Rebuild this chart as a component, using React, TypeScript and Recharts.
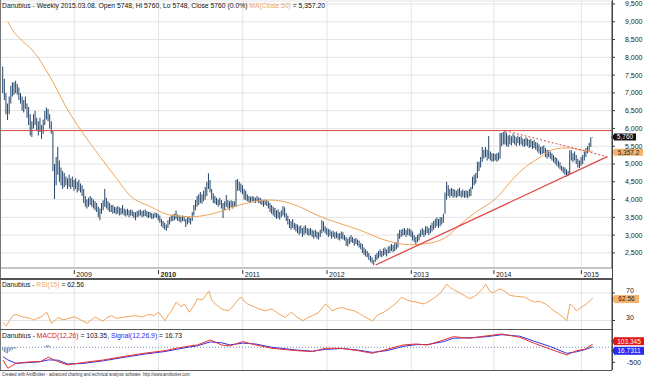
import { ComposedChart, Bar, Line, XAxis, YAxis, CartesianGrid, ReferenceLine } from 'recharts'

const FONT = 'Liberation Sans, Arial, sans-serif'

// weekly bars [low, high]; week 0 = 2008.03.09
const BARS_2008 = [
  [6990, 7740], [6800, 7400], [6400, 7000], [6240, 6700], [6400, 6900], [6700, 7200], [6900, 7300], [6950, 7300],
  [7000, 7340], [6950, 7250], [6800, 7150], [6700, 7000], [6500, 6900], [6450, 6800], [6550, 6900], [6300, 6700],
  [6100, 6600], [5800, 6400], [5760, 6200], [6000, 6400], [6100, 6500], [5950, 6300], [5800, 6200], [5900, 6300],
  [5700, 6100], [5850, 6250], [6100, 6500], [6250, 6590], [6200, 6550], [6000, 6400], [5850, 6200], [4800, 5950],
  [4015, 5000], [4400, 5200], [4700, 5480], [4500, 5100], [4400, 4900], [4300, 4800], [4350, 4750], [4400, 4650],
  [4300, 4600], [4350, 4700], [4300, 4600], [4350, 4650],
]
const BARS_2009 = [
  [4250, 4550], [4300, 4600], [4200, 4500], [4250, 4560], [4200, 4450], [4100, 4400], [3900, 4300], [3800, 4100],
  [3750, 4000], [3800, 4050], [3850, 4100], [3800, 4050], [3750, 4000], [3700, 3950], [3650, 3900], [3500, 3800],
  [3420, 3750], [3600, 3900], [3700, 3980], [3800, 4300], [3750, 4050], [3700, 3950], [3650, 3900], [3650, 3850],
  [3600, 3850], [3620, 3800], [3580, 3780], [3600, 3820], [3550, 3780], [3570, 3760], [3600, 3850], [3550, 3750],
  [3520, 3720], [3560, 3740], [3500, 3700], [3550, 3720], [3530, 3700], [3480, 3660], [3420, 3640], [3500, 3680],
  [3520, 3700], [3550, 3720], [3500, 3680], [3520, 3700], [3540, 3720], [3500, 3680], [3480, 3650], [3500, 3660],
  [3450, 3620], [3460, 3600], [3500, 3640], [3480, 3620],
]
const BARS_2010 = [
  [3420, 3600], [3350, 3550], [3250, 3450], [3200, 3400], [3150, 3350], [3125, 3300], [3200, 3420], [3300, 3500],
  [3380, 3560], [3400, 3580], [3420, 3600], [3450, 3690], [3400, 3580], [3380, 3560], [3350, 3520], [3400, 3550],
  [3380, 3540], [3230, 3450], [3300, 3500], [3350, 3520], [3300, 3480], [3400, 3650], [3550, 3850], [3700, 3990],
  [3800, 4100], [3850, 4150], [3900, 4210], [3880, 4150], [3950, 4250], [4000, 4350], [4100, 4500], [4300, 4740],
  [4200, 4550], [4000, 4300], [3900, 4180], [3880, 4100], [3850, 4050], [3800, 4000], [3850, 4050], [3750, 3990],
  [3480, 3900], [3700, 3950], [3800, 4130], [3750, 3990], [3700, 3950], [3780, 3980], [3750, 3950], [3800, 3950],
  [3800, 4550], [4250, 4580], [4250, 4500], [4200, 4450],
]
const BARS_2011 = [
  [4150, 4400], [4000, 4300], [3980, 4250], [3950, 4150], [3930, 4100], [3900, 4080], [3950, 4100], [3920, 4080],
  [3900, 4050], [3950, 4100], [3900, 4060], [3880, 4050], [3850, 4000], [3800, 3980], [3850, 4000], [3820, 3980],
  [3750, 3950], [3650, 3900], [3600, 3850], [3550, 3800], [3500, 3760], [3450, 3700], [3480, 3720], [3430, 3650],
  [3500, 3700], [3550, 3820], [3500, 3780], [3400, 3620], [3300, 3550], [3200, 3450], [3150, 3400], [3200, 3450],
  [3150, 3350], [3100, 3320], [3050, 3300], [3000, 3250], [3050, 3280], [2950, 3200], [3000, 3250], [3050, 3280],
  [3000, 3200], [2980, 3180], [3000, 3200], [2950, 3150], [2900, 3120], [2950, 3150], [2900, 3100], [2880, 3080],
  [2950, 3150], [3050, 3420], [3100, 3380], [3050, 3250],
]
const BARS_2012 = [
  [3000, 3200], [2950, 3180], [2980, 3150], [2900, 3100], [2950, 3120], [2900, 3080], [2920, 3100], [2880, 3050],
  [2850, 3050], [2900, 3100], [2880, 3080], [2850, 3000], [2700, 2950], [2680, 2900], [2750, 2950], [2800, 3000],
  [2780, 2950], [2700, 2900], [2750, 2920], [2700, 2880], [2650, 2850], [2600, 2780], [2500, 2750], [2450, 2650],
  [2400, 2600], [2380, 2550], [2300, 2500], [2250, 2420], [2200, 2380], [2160, 2300], [2250, 2450], [2300, 2500],
  [2350, 2550], [2400, 2600], [2380, 2550], [2420, 2620], [2450, 2650], [2400, 2600], [2480, 2680], [2500, 2700],
  [2550, 2750], [2520, 2720], [2550, 2780], [2600, 2800], [2650, 3050], [2900, 3150], [2950, 3150], [2980, 3180],
  [3000, 3200], [2950, 3150], [3000, 3200], [2980, 3180],
]
const BARS_2013 = [
  [2950, 3150], [2850, 3100], [2800, 3000], [2750, 2950], [2800, 3000], [2850, 3050], [2950, 3150], [3000, 3200],
  [2950, 3150], [3000, 3250], [3050, 3250], [3000, 3200], [3050, 3280], [3100, 3350], [3150, 3400], [3200, 3450],
  [3250, 3500], [3200, 3450], [3250, 3510], [3300, 3500], [3350, 3600], [3600, 4200], [4000, 4500], [4100, 4400],
  [4050, 4300], [4100, 4330], [4050, 4300], [4080, 4280], [4050, 4250], [4080, 4300], [4100, 4330], [4050, 4250],
  [4080, 4280], [4050, 4250], [4060, 4260], [4040, 4240], [4080, 4300], [4100, 4350], [4300, 4640], [4400, 4700],
  [4450, 4750], [4600, 5060], [4800, 5060], [4900, 5200], [5060, 5480], [5150, 5400], [5200, 5480], [5100, 5400],
  [5150, 5790], [5100, 5350], [5060, 5300],
]
const BARS_2014 = [
  [5080, 5300], [5100, 5280], [5060, 5300], [5100, 5320], [5150, 5870], [5500, 5870], [5550, 5900], [5550, 5936],
  [5500, 5880], [5480, 5800], [5550, 5820], [5520, 5780], [5600, 5850], [5550, 5800], [5500, 5750], [5580, 5800],
  [5520, 5760], [5550, 5780], [5500, 5720], [5480, 5700], [5520, 5750], [5500, 5720], [5450, 5680], [5480, 5700],
  [5420, 5650], [5450, 5680], [5400, 5620], [5350, 5600], [5300, 5550], [5250, 5480], [5280, 5500], [5300, 5520],
  [5200, 5450], [5150, 5400], [5200, 5390], [5150, 5350], [5100, 5300], [5050, 5250], [5000, 5200], [4950, 5170],
  [4900, 5100], [4850, 5050], [4800, 4950], [4750, 4920], [4700, 4900], [4640, 4850], [4660, 4800], [4700, 5390],
  [5100, 5390], [5050, 5300], [5100, 5350], [5000, 5250], [4900, 5150], [4890, 5100],
]
const BARS_2015 = [
  [4950, 5200], [5000, 5250], [5100, 5350], [5200, 5450], [5300, 5500], [5350, 5600], [5480, 5750], [5748, 5760],
]

// MA(Close,50) read at some weeks
const MA_POINTS: [number, number][] = [
  [3, 9000], [6, 8760], [12, 8460], [18, 8206], [29, 7455], [40, 6518], [48, 5955], [60, 5200], [70, 4600],
  [78, 4128], [91, 3800], [103, 3565], [117, 3518], [134, 3660], [146, 3847], [165, 3987], [177, 3900],
  [196, 3518], [220, 3144], [239, 2815], [251, 2730], [264, 2780], [274, 2955], [282, 3285], [291, 3620],
  [304, 4020], [317, 4690], [325, 5000], [332, 5200], [338, 5380], [346, 5450], [350, 5450], [356, 5400], [364, 5357],
]

const RSI_POINTS: [number, number][] = [
  [0, 27], [2, 22], [4, 30], [6, 37], [8, 39], [11, 36], [14, 34.5], [17, 33], [19, 30.5], [21, 33], [23, 34.5],
  [25, 38], [27, 42], [30, 25.6], [32, 30], [34, 34.5], [37, 31], [39, 32], [42, 34], [44, 35.4], [47, 32],
  [49, 29.5], [52, 26], [55, 32], [57, 35], [60, 31], [62, 29.5], [64, 34], [67, 37], [70, 33], [74, 34.5],
  [78, 36], [82, 37], [86, 35], [90, 39], [93, 37], [96, 42], [98, 36], [100, 29.5], [102, 38], [104, 44],
  [107, 56.7], [110, 50], [112, 54], [115, 42], [118, 52], [120, 61.6], [123, 60], [125, 66], [127, 73],
  [129, 59], [132, 52], [135, 46.8], [139, 44], [141, 48], [143, 54], [145, 60], [147, 64], [149, 58], [151, 54],
  [155, 50], [158, 46.8], [162, 44], [166, 46.8], [170, 40], [174, 34.5], [176, 38], [178, 42], [181, 36],
  [185, 29.5], [188, 34], [191, 37], [195, 42], [199, 54], [201, 50], [203, 44], [206, 47], [209, 49], [213, 46],
  [217, 44], [220, 40], [222, 37], [225, 33], [228, 29.5], [230, 35], [232, 39], [235, 42], [238, 46.8],
  [242, 54], [246, 64], [249, 60], [252, 58], [255, 56.7], [258, 55], [260, 54], [263, 58], [267, 64], [270, 70],
  [274, 82.8], [276, 78], [278, 75], [282, 70], [285, 66], [288, 61.6], [291, 65], [293, 69], [296, 76],
  [298, 82.8], [300, 74], [302, 70], [305, 74], [307, 76], [310, 72], [313, 66.5], [317, 65], [322, 64],
  [325, 60], [328, 56.7], [331, 58], [335, 54], [338, 48], [340, 44], [343, 40], [346, 34], [348, 29.5],
  [350, 54], [352, 50], [354, 44], [357, 49], [360, 54], [362, 58], [364, 62.56],
]

const MACD_POINTS: [number, number][] = [
  [0, -422], [3, -700], [8, -533], [14, -500], [19, -478], [23, -478], [28, -333], [34, -478], [40, -589],
  [49, -511], [62, -422], [74, -311], [87, -200], [100, -111], [107, -33], [115, 44], [120, 78], [128, 244],
  [135, 78], [140, 44], [148, 189], [156, 78], [166, -33], [181, -111], [191, -144], [199, -33], [209, -33],
  [219, -111], [228, -200], [237, -67], [247, 78], [255, 111], [262, 78], [272, 244], [278, 355], [288, 300],
  [298, 378], [308, 444], [319, 333], [328, 133], [338, -67], [348, -255], [354, -111], [359, -67], [364, 103.35],
]
const SIGNAL_POINTS: [number, number][] = [
  [0, -311], [3, -420], [8, -533], [19, -500], [23, -480], [28, -420], [34, -430], [40, -555], [49, -540],
  [62, -450], [74, -340], [87, -230], [100, -140], [107, -70], [115, 10], [120, 50], [128, 180], [135, 150],
  [140, 80], [148, 140], [156, 110], [166, 0], [181, -90], [191, -130], [199, -70], [209, -40], [219, -90],
  [228, -170], [237, -110], [247, 30], [255, 90], [262, 90], [272, 190], [278, 300], [288, 320], [298, 350],
  [308, 420], [319, 370], [328, 200], [338, 20], [348, -200], [354, -150], [359, -80], [364, 16.73],
]
const HIST_POINTS: [number, number][] = [
  [0, -110], [1, -160], [2, -190], [3, -200], [4, -150], [5, -110], [6, -80], [7, -60], [8, -40],
  [26, 40], [27, 70], [28, 80], [29, 50],
]

const YEAR_TICKS = [44, 96, 148, 200, 252, 303, 357]
const YEAR_LABELS = ['2009', '2010', '2011', '2012', '2013', '2014', '2015']
const PRICE_TICKS = [2500, 3000, 3500, 4000, 4500, 5000, 5500, 6000, 6500, 7000, 7500, 8000, 8500, 9000, 9500]
const RSI_TICKS = [30, 70]
const MACD_TICKS = [-500]

const RESIST_LEVEL = 5940
const SUPPORT_LINE: [number, number][] = [[230, 2160], [373, 5205]]
const FALLING_LINE: [number, number][] = [[310, 5936], [373, 5205]]

const LAST_CLOSE = 5760
const LAST_MA = 5357.2
const LAST_RSI = 62.56
const LAST_MACD = 103.345
const LAST_SIGNAL = 16.7311

const X_DOMAIN: [number, number] = [-1.85, 375.9]
const ORANGE = '#f0a458'
const GRID = '#e4e4e4'

const BARS = [...BARS_2008, ...BARS_2009, ...BARS_2010, ...BARS_2011, ...BARS_2012, ...BARS_2013, ...BARS_2014, ...BARS_2015]
const maMap = new Map(MA_POINTS)
const priceData = BARS.map(([lo, hi], i) => ({ i, range: [lo, hi], ma: maMap.get(i) }))
const rsiData = RSI_POINTS.map(([i, v]) => ({ i, rsi: v }))

const macdMap = new Map<number, any>()
const put = (pts: [number, number][], key: string) =>
  pts.forEach(([i, v]) => macdMap.set(i, { ...(macdMap.get(i) || { i }), [key]: v }))
put(MACD_POINTS, 'macd')
put(SIGNAL_POINTS, 'signal')
put(HIST_POINTS, 'hist')
const macdData = [...macdMap.values()].sort((a, b) => a.i - b.i)

const YearTick = ({ x, y, payload }: any) => {
  const label = YEAR_LABELS[YEAR_TICKS.indexOf(payload.value)]
  return (
    <g>
      <line x1={x} x2={x} y1={y + 2} y2={y + 6} stroke="#333" />
      <text x={x + 2} y={y + 9} fontSize={7} fill="#222" fontFamily={FONT} fontWeight={label === '2010' ? 'bold' : 'normal'}>
        {label}
      </text>
    </g>
  )
}

const AxisTick = ({ x, y, payload, dx, dy = 2.5 }: any) => (
  <g>
    <line x1={x} x2={x + 3} y1={y} y2={y} stroke="#333" />
    <text x={x + dx} y={y + dy} fontSize={7} fill="#222" fontFamily={FONT}>
      {payload.value.toLocaleString('en-US')}
    </text>
  </g>
)

const Tag = ({ viewBox, text, bg, fg, w, dy = 0, h = 8 }: any) => {
  if (!viewBox) return null
  const x = viewBox.x + viewBox.width + 1
  const y = viewBox.y + dy
  return (
    <g>
      <polygon points={`${x - 2},${y} ${x + 2},${y - h / 2} ${x + 2},${y + h / 2}`} fill={bg} />
      <rect x={x + 1} y={y - h / 2} width={w} height={h} fill={bg} />
      <text x={x + 1 + w / 2} y={y + 2.3} textAnchor="middle" fontSize={6.5} fill={fg} fontFamily={FONT}>
        {text}
      </text>
    </g>
  )
}

export default function App() {
  return (
    <div style={{ position: 'absolute', left: 0, top: 0, width: 645, height: 377, background: '#fff' }}>
      <div style={{ position: 'absolute', left: 0, top: 0 }}>
        <ComposedChart width={645} height={279} data={priceData} margin={{ top: 1, right: 0, bottom: 0, left: 0 }}>
          <CartesianGrid stroke={GRID} />
          <XAxis dataKey="i" type="number" domain={X_DOMAIN} ticks={YEAR_TICKS} interval={0} height={11}
            tickSize={0} tickMargin={0} axisLine={{ stroke: '#999' }} tick={<YearTick />} allowDataOverflow />
          <YAxis orientation="right" width={33} domain={[2075, 9584]} ticks={PRICE_TICKS} interval={0}
            tickSize={0} tickMargin={0} axisLine={{ stroke: '#444' }} tick={<AxisTick dx={13} />} allowDataOverflow />
          <ReferenceLine y={RESIST_LEVEL} stroke="#e04848" strokeWidth={1} />
          <Bar dataKey="range" barSize={1} fill="#234569" isAnimationActive={false} />
          <Line dataKey="ma" type="monotone" stroke={ORANGE} strokeWidth={1} dot={false} connectNulls isAnimationActive={false} />
          <ReferenceLine segment={SUPPORT_LINE.map(([x, y]) => ({ x, y }))} stroke="#e04848" strokeWidth={1.3} />
          <ReferenceLine segment={FALLING_LINE.map(([x, y]) => ({ x, y }))} stroke="#e04848" strokeDasharray="2 2" />
          <ReferenceLine y={LAST_CLOSE} stroke="none"
            label={<Tag text="5,760" bg="#111" fg="#fff" w={22} h={7} />} />
          <ReferenceLine y={LAST_MA} stroke="none"
            label={<Tag text="5,357.2" bg="#f5b26e" fg="#222" w={29} h={7} dy={1} />} />
        </ComposedChart>
      </div>

      <div style={{ position: 'absolute', left: 0, top: 280 }}>
        <ComposedChart width={645} height={49} data={rsiData} margin={{ top: 0, right: 0, bottom: 0, left: 0 }}>
          <XAxis dataKey="i" type="number" domain={X_DOMAIN} hide allowDataOverflow />
          <YAxis orientation="right" width={33} domain={[17.6, 88.9]} ticks={RSI_TICKS} interval={0}
            tickSize={0} tickMargin={0} axisLine={{ stroke: '#444' }} tick={<AxisTick dx={14} dy={0} />} allowDataOverflow />
          {YEAR_TICKS.map((t) => <ReferenceLine key={t} x={t} stroke={GRID} />)}
          {RSI_TICKS.map((t) => <ReferenceLine key={t} y={t} stroke={GRID} />)}
          <Line dataKey="rsi" stroke={ORANGE} strokeWidth={1} dot={false} isAnimationActive={false} />
          <ReferenceLine y={LAST_RSI} stroke="none"
            label={<Tag text="62.56" bg="#f5b26e" fg="#222" w={25} dy={1} />} />
        </ComposedChart>
      </div>

      <div style={{ position: 'absolute', left: 0, top: 330 }}>
        <ComposedChart width={645} height={40} data={macdData} margin={{ top: 0, right: 0, bottom: 0, left: 0 }}>
          <XAxis dataKey="i" type="number" domain={X_DOMAIN} hide allowDataOverflow />
          <YAxis orientation="right" width={33} domain={[-757, 577]} ticks={MACD_TICKS} interval={0}
            tickSize={0} tickMargin={0} axisLine={{ stroke: '#444' }} tick={<AxisTick dx={15} />} allowDataOverflow />
          {YEAR_TICKS.map((t) => <ReferenceLine key={t} x={t} stroke={GRID} />)}
          <ReferenceLine y={0} stroke="#6f8fb5" strokeDasharray="1 2" />
          <Bar dataKey="hist" barSize={1} fill="#6f8fb5" isAnimationActive={false} />
          <Line dataKey="signal" stroke="#3434e0" strokeWidth={1} dot={false} connectNulls isAnimationActive={false} />
          <Line dataKey="macd" stroke="#e83030" strokeWidth={1} dot={false} connectNulls isAnimationActive={false} />
          <ReferenceLine y={LAST_MACD} stroke="none"
            label={<Tag text="103.345" bg="#e01818" fg="#fff" w={30} dy={-3} />} />
          <ReferenceLine y={LAST_SIGNAL} stroke="none"
            label={<Tag text="16.7311" bg="#2a2af0" fg="#fff" w={30} dy={4} />} />
        </ComposedChart>
      </div>

      <svg width={645} height={377} style={{ position: 'absolute', left: 0, top: 0, pointerEvents: 'none' }}>
        <line x1={0.5} x2={0.5} y1={0} y2={370} stroke="#777" />
        <line x1={612.5} x2={612.5} y1={0} y2={370} stroke="#444" />
        <line x1={0} x2={612} y1={279} y2={279} stroke="#555" strokeWidth={2} />
        <line x1={0} x2={612} y1={329.5} y2={329.5} stroke="#555" />
        <line x1={0} x2={612} y1={370.5} y2={370.5} stroke="#555" />
        <text x={2} y={8} fontSize={6.5} fill="#111" fontFamily={FONT} textLength={323} lengthAdjust="spacingAndGlyphs">
          Danubius - Weekly 2015.03.08. Open 5748, Hi 5760, Lo 5748, Close 5760 (0.0%){' '}
          <tspan fill={ORANGE}>MA(Close,50)</tspan> = 5,357.20
        </text>
        <text x={2} y={287} fontSize={6.5} fill="#111" fontFamily={FONT} textLength={82} lengthAdjust="spacingAndGlyphs">
          Danubius - <tspan fill={ORANGE}>RSI(15)</tspan> = 62.56
        </text>
        <text x={2} y={337.5} fontSize={6.5} fill="#111" fontFamily={FONT} textLength={180} lengthAdjust="spacingAndGlyphs">
          Danubius - <tspan fill="#e01818">MACD(12,26)</tspan> = 103.35, <tspan fill="#2a2af0">Signal(12,26,9)</tspan> = 16.73
        </text>
        <text x={2} y={376} fontSize={5} fill="#333" fontFamily={FONT} textLength={188} lengthAdjust="spacingAndGlyphs">
          Created with AmiBroker - advanced charting and technical analysis software. http://www.amibroker.com
        </text>
      </svg>
    </div>
  )
}
